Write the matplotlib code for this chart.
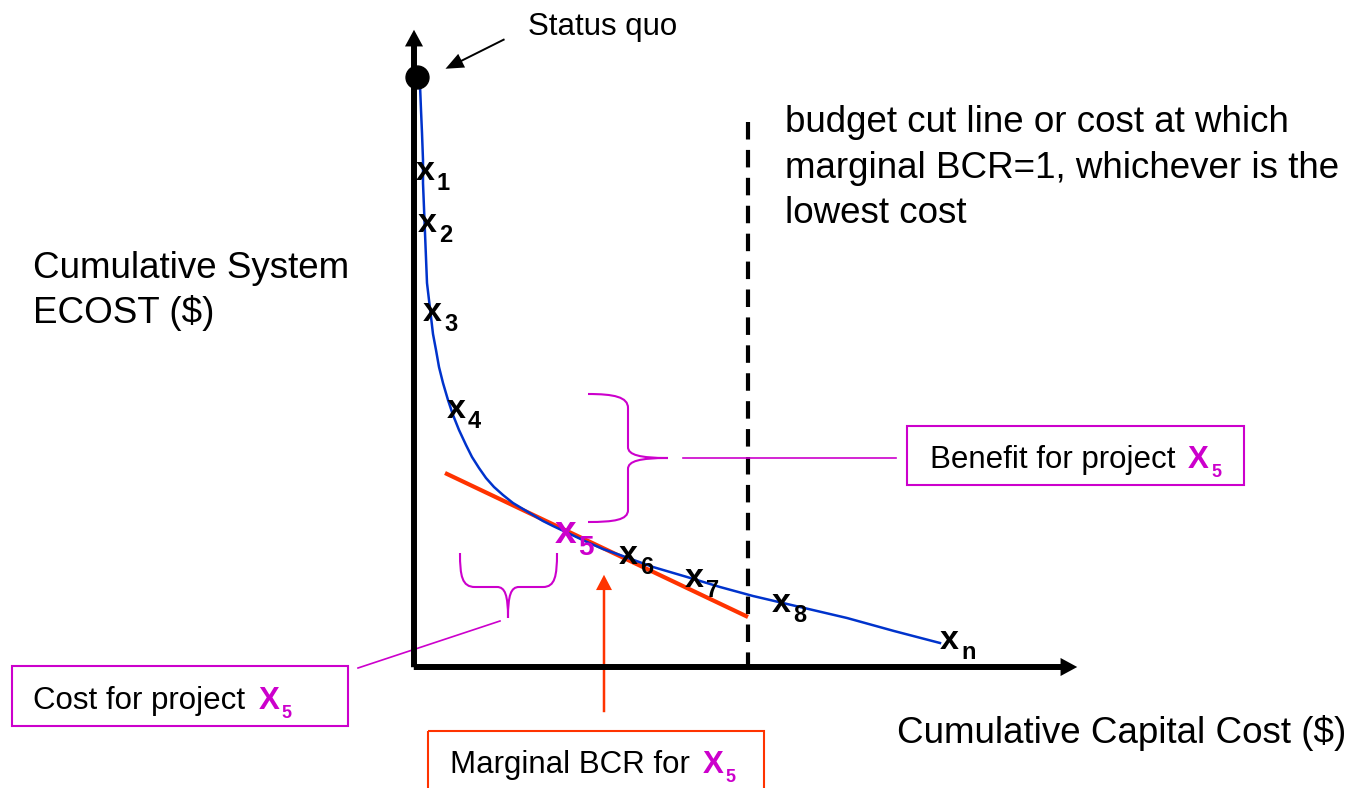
import matplotlib
matplotlib.use('Agg')
import matplotlib.pyplot as plt
import matplotlib.transforms as mtransforms
from matplotlib.patches import FancyArrowPatch, Rectangle, PathPatch
from matplotlib.path import Path

plt.rcParams['font.family'] = ['Liberation Sans', 'DejaVu Sans']

# ---------------- data (conceptual units) ----------------
curve_cost = [6, 7, 8, 9, 9, 10, 11, 12, 13, 15, 17, 19, 22, 25, 29, 34, 39,
              45, 52, 58, 65, 72, 80, 89, 99, 109, 119, 129, 139, 156, 173,
              189, 206, 239, 273, 306, 339, 386, 433, 480, 526]
curve_ecost = [582, 557, 534, 507, 484, 459, 434, 409, 384, 367, 350, 333,
               317, 300, 284, 267, 252, 237, 222, 210, 199, 189, 180, 172,
               164, 158, 152, 146, 141, 133, 125, 118, 112, 100, 90, 80, 71,
               60, 49, 36, 24]
status_quo_cost = 3
status_quo_ecost = 590
project_names = ['1', '2', '3', '4', '5', '6', '7', '8', 'n']
project_cost = [11, 13, 18, 42, 151, 214, 280, 367, 535]
project_ecost = [495, 443, 354, 257, 134, 111, 88, 63, 26]
highlight = '5'
tangent_cost = [31, 334]
tangent_ecost = [194, 50]
budget_cost = 334
budget_top = 545

x_label = 'Cumulative Capital Cost ($)'
y_label_lines = ['Cumulative System', 'ECOST ($)']
budget_lines = ['budget cut line or cost at which',
                'marginal BCR=1, whichever is the',
                'lowest cost']

MAGENTA = '#CC00CC'
RED = '#FF3300'
BLUE = '#0033CC'

W, H = 1354, 788
fig = plt.figure(figsize=(W / 100, H / 100), dpi=100)
ax = fig.add_axes([0, 0, 1, 1])
ax.set_xlim(-414, W - 414)
ax.set_ylim(667 - H, 667)
ax.axis('off')

# layout transform: image pixel coords (y down) -> data
img = mtransforms.Affine2D().translate(-414, 0).scale(1, -1).translate(0, 667) + ax.transData

# axes arrows
axis_style = 'simple,head_length=12,head_width=13,tail_width=4.3'
ax.add_patch(FancyArrowPatch((0, -3), (0, 640), arrowstyle=axis_style,
             mutation_scale=1, lw=0, color='black', zorder=5))
ax.add_patch(FancyArrowPatch((-3, 0), (666, 0), arrowstyle=axis_style,
             mutation_scale=1, lw=0, color='black', zorder=5))

# budget dashed line
ax.plot([budget_cost, budget_cost], [budget_top, 0], color='black', lw=3,
        dashes=(4.2, 2.5), zorder=2)

# tangent and curve
ax.plot(tangent_cost, tangent_ecost, color=RED, lw=3, solid_capstyle='butt', zorder=3)
ax.plot(curve_cost, curve_ecost, color=BLUE, lw=1.8, solid_joinstyle='round', zorder=4)
ax.plot([status_quo_cost], [status_quo_ecost], 'o', ms=16.5, color='black', zorder=6)

# project labels
for name, c, e in zip(project_names, project_cost, project_ecost):
    if name == highlight:
        col, fs_main, fs_sub, off_main, off_sub = MAGENTA, 28, 20, (-10, -10), (13, -22)
    else:
        col, fs_main, fs_sub, off_main, off_sub = 'black', 24.5, 17, (-9, -8), (12, -18)
    ax.annotate('x', xy=(c, e), xytext=off_main, textcoords='offset pixels',
                ha='left', va='baseline', fontsize=fs_main, fontweight='bold',
                color=col, zorder=7)
    ax.annotate(name, xy=(c, e), xytext=off_sub, textcoords='offset pixels',
                ha='left', va='baseline', fontsize=fs_sub, fontweight='bold',
                color=col, zorder=7)

# status quo annotation
ax.text(528, 35, 'Status quo', transform=img, fontsize=22.5, ha='left', va='baseline')
ax.add_patch(FancyArrowPatch((507, 38), (443, 70), transform=img,
             arrowstyle='simple,head_length=13,head_width=11,tail_width=1.4',
             mutation_scale=1, lw=0, color='black'))

# axis labels
for i, line in enumerate(y_label_lines):
    ax.text(33, 278 + 45 * i, line, transform=img, fontsize=26.5, ha='left', va='baseline')
ax.text(897, 743, x_label, transform=img, fontsize=26.5, ha='left', va='baseline')
for i, line in enumerate(budget_lines):
    ax.text(785, 132 + 45.5 * i, line, transform=img, fontsize=26.5, ha='left', va='baseline')

# benefit brace
P = Path
b_verts = [(588, 394), (614, 394), (628, 397), (628, 408),
           (628, 447),
           (628, 455), (640, 458), (668, 458),
           (640, 458), (628, 461), (628, 469),
           (628, 510),
           (628, 520), (614, 522), (588, 522)]
b_codes = [P.MOVETO, P.CURVE4, P.CURVE4, P.CURVE4, P.LINETO,
           P.CURVE4, P.CURVE4, P.CURVE4, P.CURVE4, P.CURVE4, P.CURVE4,
           P.LINETO, P.CURVE4, P.CURVE4, P.CURVE4]
ax.add_patch(PathPatch(Path(b_verts, b_codes), transform=img, fill=False,
                       edgecolor=MAGENTA, lw=1.5))
ax.plot([683, 896], [458, 458], transform=img, color=MAGENTA, lw=1.2)
ax.add_patch(Rectangle((907, 426), 337, 59, transform=img, fill=False,
                       edgecolor=MAGENTA, lw=1.5))
ax.text(930, 468, 'Benefit for project', transform=img, fontsize=22.5, ha='left', va='baseline')
ax.text(1188, 468, 'X', transform=img, fontsize=22.5, ha='left', va='baseline',
        color=MAGENTA, fontweight='bold')
ax.text(1211, 477, '5', transform=img, fontsize=13, ha='left', va='baseline',
        color=MAGENTA, fontweight='bold')

# cost brace
c_verts = [(460, 553), (460, 576), (462, 587), (475, 587),
           (497, 587),
           (505, 587), (508, 595), (508, 618),
           (508, 595), (511, 587), (519, 587),
           (543, 587),
           (555, 587), (557, 576), (557, 553)]
ax.add_patch(PathPatch(Path(c_verts, b_codes), transform=img, fill=False,
                       edgecolor=MAGENTA, lw=1.5))
ax.plot([500, 358], [621, 668], transform=img, color=MAGENTA, lw=1.2)
ax.add_patch(Rectangle((12, 666), 336, 60, transform=img, fill=False,
                       edgecolor=MAGENTA, lw=1.5))
ax.text(33, 709, 'Cost for project', transform=img, fontsize=22.5, ha='left', va='baseline')
ax.text(259, 709, 'X', transform=img, fontsize=22.5, ha='left', va='baseline',
        color=MAGENTA, fontweight='bold')
ax.text(281, 718, '5', transform=img, fontsize=13, ha='left', va='baseline',
        color=MAGENTA, fontweight='bold')

# marginal BCR
ax.add_patch(FancyArrowPatch((604, 715), (604, 572), transform=img,
             arrowstyle='simple,head_length=11,head_width=11.5,tail_width=1.8',
             mutation_scale=1, lw=0, color=RED))
ax.add_patch(Rectangle((428, 731), 336, 70, transform=img, fill=False,
                       edgecolor=RED, lw=1.5, clip_on=True))
ax.text(450, 773, 'Marginal BCR for', transform=img, fontsize=22.5, ha='left', va='baseline')
ax.text(703, 773, 'X', transform=img, fontsize=22.5, ha='left', va='baseline',
        color=MAGENTA, fontweight='bold')
ax.text(725, 782, '5', transform=img, fontsize=13, ha='left', va='baseline',
        color=MAGENTA, fontweight='bold')

fig.savefig('out.png', dpi=100)
